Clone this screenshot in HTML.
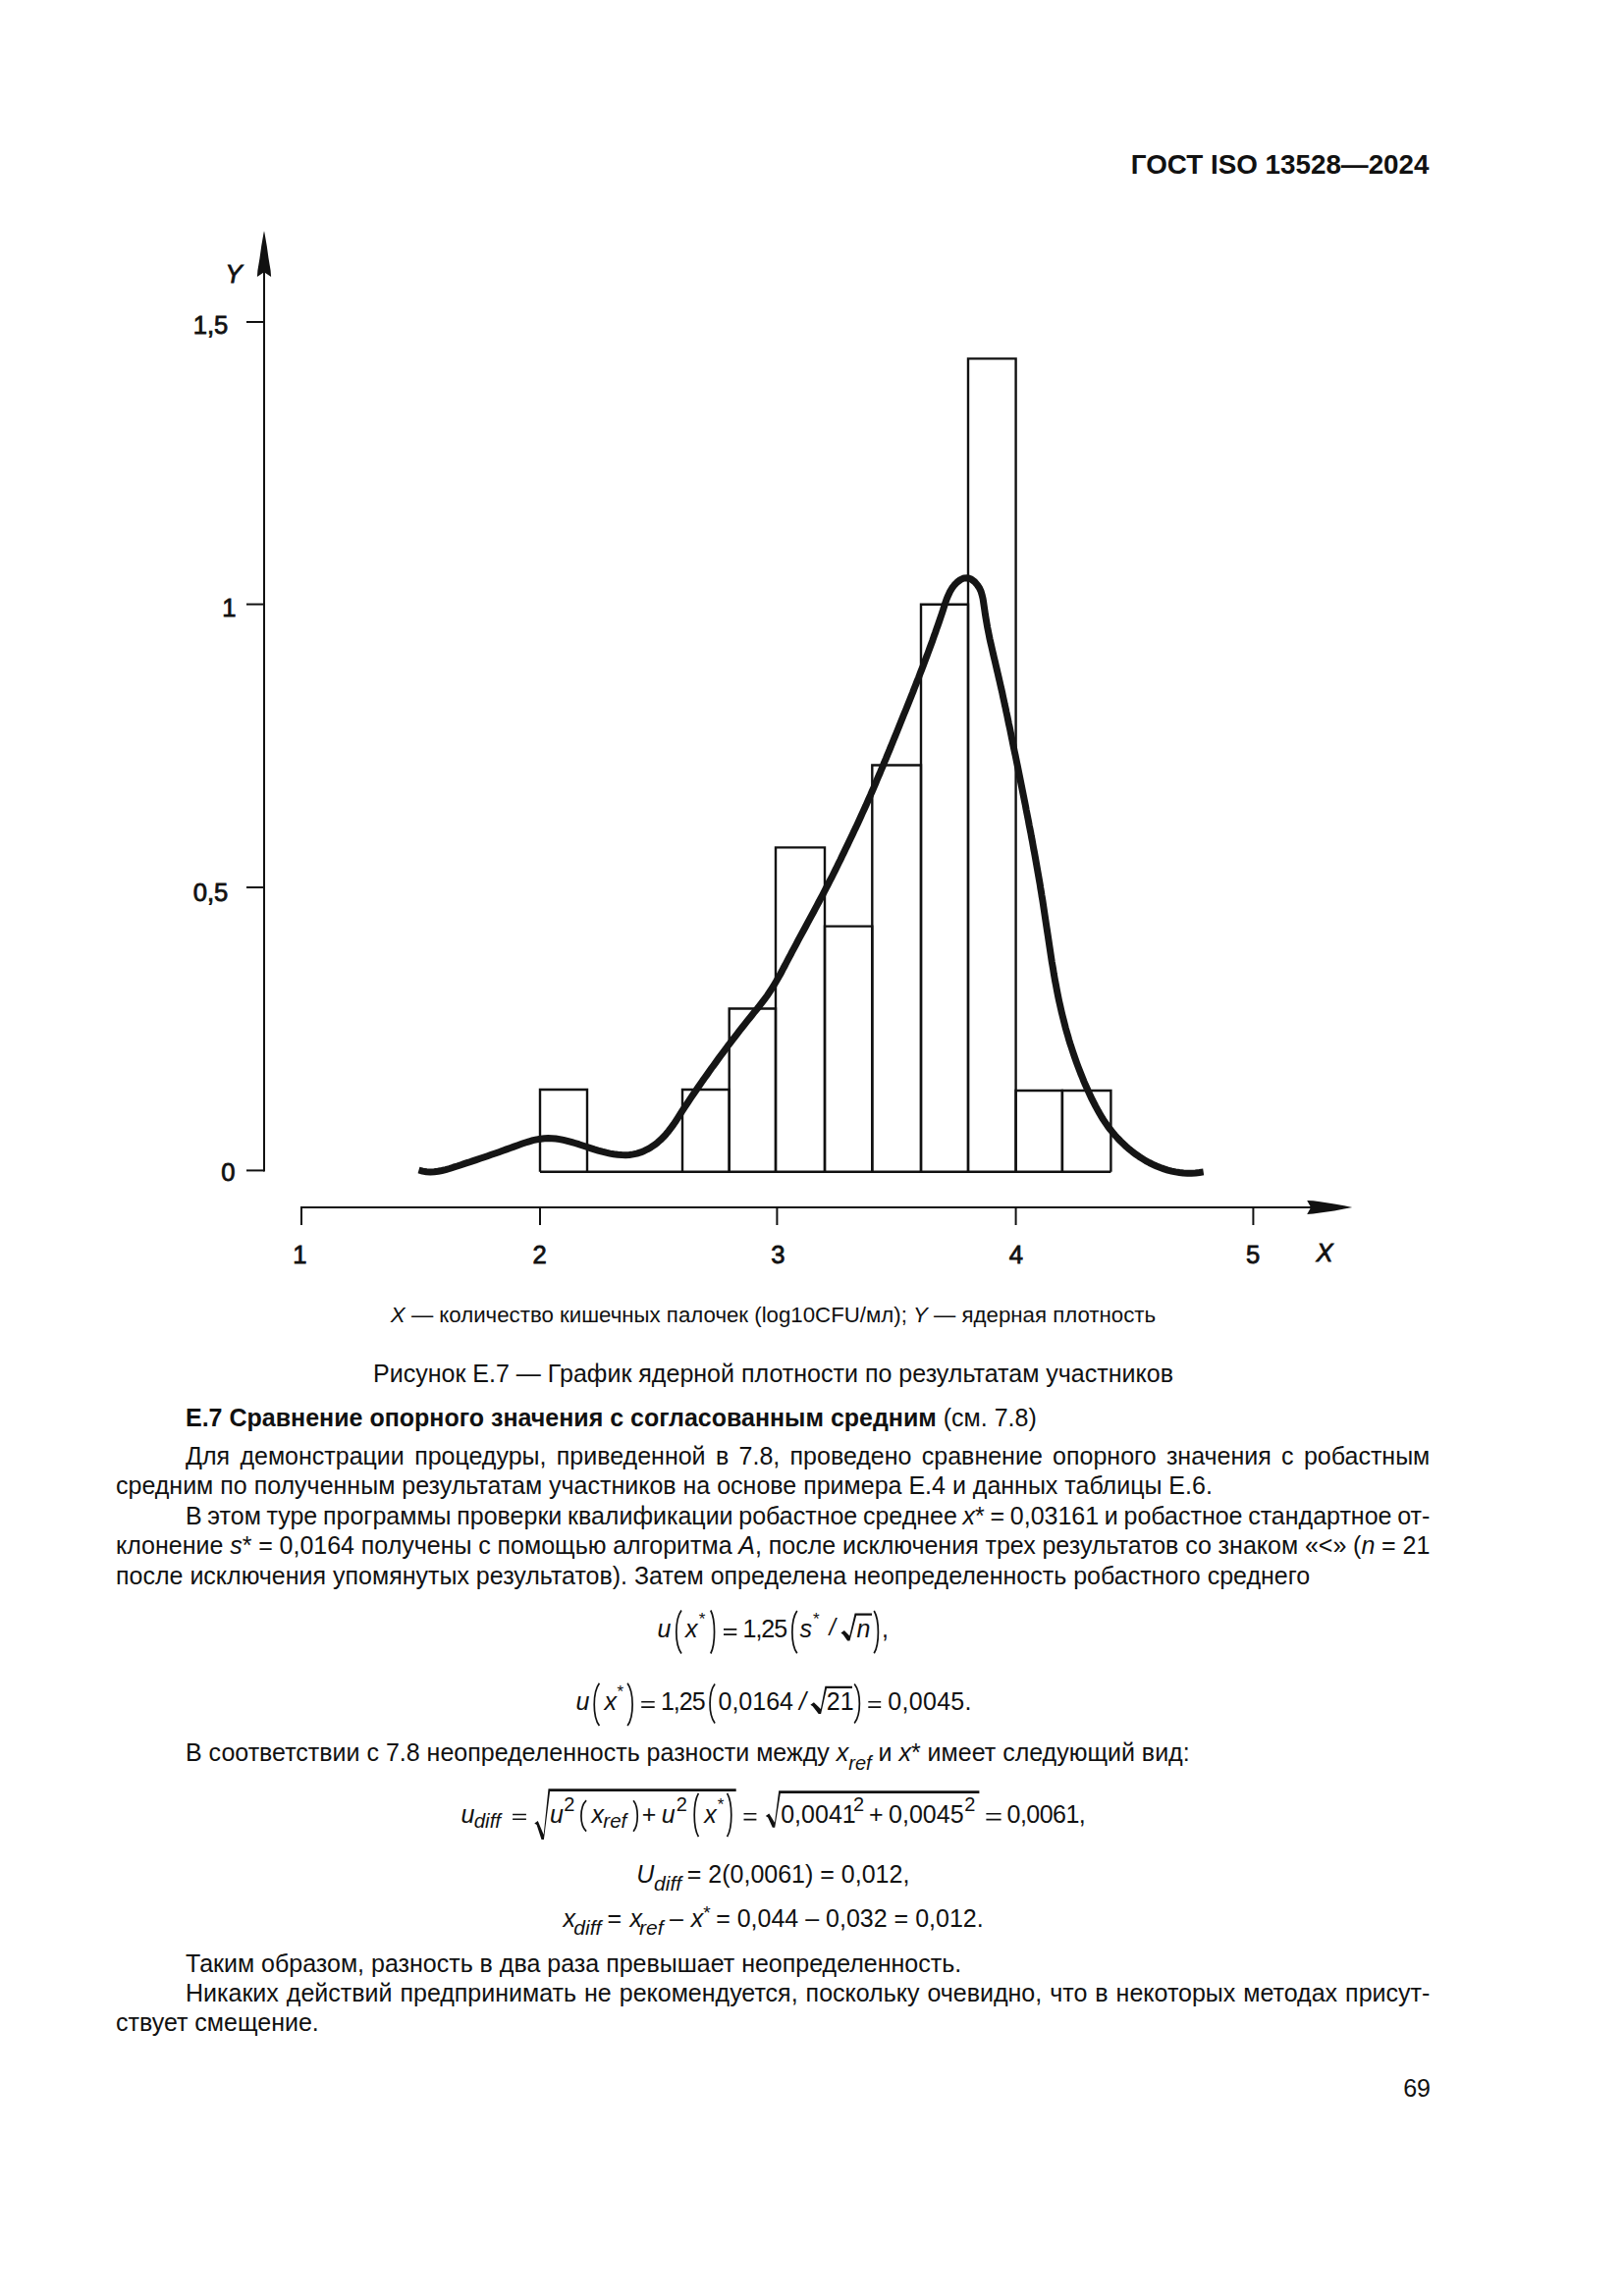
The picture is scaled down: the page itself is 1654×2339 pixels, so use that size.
<!DOCTYPE html>
<html><head><meta charset="utf-8">
<style>
html,body{margin:0;padding:0;background:#fff;}
body{width:1654px;height:2339px;position:relative;overflow:hidden;font-family:"Liberation Sans",sans-serif;color:#111;}
.t{position:absolute;white-space:pre;font-size:25px;line-height:25px;}
i{font-style:italic;}
sub{font-size:0.8em;vertical-align:0;position:relative;top:0.42em;}
svg{position:absolute;left:0;top:0;}
</style></head><body>
<svg width="1654" height="2339" viewBox="0 0 1654 2339">
<g stroke="#111" fill="none" stroke-width="2">
<line x1="269" y1="1193.5" x2="269" y2="270"/>
<line x1="251" y1="328" x2="269" y2="328"/>
<line x1="251" y1="615.6" x2="269" y2="615.6"/>
<line x1="251" y1="904" x2="269" y2="904"/>
<line x1="251" y1="1192.4" x2="269" y2="1192.4"/>
<line x1="306" y1="1230" x2="1340" y2="1230"/>
<line x1="307" y1="1230" x2="307" y2="1248"/>
<line x1="550" y1="1230" x2="550" y2="1248"/>
<line x1="791.4" y1="1230" x2="791.4" y2="1248"/>
<line x1="1034.6" y1="1230" x2="1034.6" y2="1248"/>
<line x1="1276.4" y1="1230" x2="1276.4" y2="1248"/>
</g>
<g stroke="#111" fill="none" stroke-width="2.4"><path d="M550 1193.7 H1131.4"/>
<path d="M550 1193.7 V1110 H598 V1193.7"/>
<path d="M695 1193.7 V1110 H742.7 V1193.7"/>
<path d="M742.7 1193.7 V1027.5 H790 V1193.7"/>
<path d="M790 1193.7 V863.4 H840 V1193.7"/>
<path d="M840 1193.7 V943.6 H888.3 V1193.7"/>
<path d="M888.3 1193.7 V779.5 H938 V1193.7"/>
<path d="M938 1193.7 V615.8 H986 V1193.7"/>
<path d="M986 1193.7 V365.4 H1034.6 V1193.7"/>
<path d="M1034.6 1193.7 V1111 H1081.9 V1193.7"/>
<path d="M1081.9 1193.7 V1111 H1131.4 V1193.7"/>
</g>
<path d="M269 235.2 L269.6 238 L271.8 250.8 L273.5 263.1 L275.6 275.4 L276.1 281.9 L269 277.3 L261.9 281.9 L262.4 275.4 L264.5 263.1 L266.2 250.8 L268.4 238 Z" fill="#111"/>
<path d="M1377.2 1230 L1369 1231.6 L1359 1233.4 L1344.5 1235.6 L1337.5 1236.6 L1331.2 1236.9 L1335.1 1230 L1331.2 1223 L1337.5 1223.3 L1344.5 1224.3 L1359 1226.5 L1369 1228.3 Z" fill="#111"/>
<path d="M426.5 1192.0 L430.5 1193.1 L434.4 1193.8 L438.3 1194.0 L442.2 1193.8 L446.1 1193.3 L450.0 1192.5 L453.9 1191.6 L457.8 1190.5 L461.7 1189.2 L465.6 1188.0 L469.5 1186.7 L473.3 1185.4 L477.2 1184.2 L481.1 1182.9 L484.9 1181.6 L488.8 1180.3 L492.7 1179.0 L496.5 1177.7 L500.4 1176.3 L504.3 1175.0 L508.1 1173.7 L512.0 1172.3 L515.8 1170.9 L519.7 1169.5 L523.5 1168.1 L527.4 1166.7 L531.3 1165.3 L535.1 1164.0 L539.0 1162.8 L542.9 1161.7 L546.7 1160.9 L550.6 1160.2 L554.5 1159.7 L558.3 1159.6 L562.2 1159.7 L566.1 1160.0 L570.0 1160.6 L573.9 1161.4 L577.8 1162.3 L581.7 1163.3 L585.6 1164.5 L589.5 1165.7 L593.4 1167.0 L597.3 1168.3 L601.3 1169.6 L605.2 1170.9 L609.2 1172.1 L613.2 1173.2 L617.2 1174.2 L621.2 1175.1 L625.2 1175.8 L629.2 1176.3 L633.2 1176.6 L637.1 1176.7 L641.0 1176.5 L644.9 1175.9 L648.7 1175.1 L652.5 1173.9 L656.1 1172.4 L659.7 1170.7 L663.1 1168.7 L666.5 1166.4 L669.7 1163.9 L672.8 1161.2 L675.7 1158.3 L678.4 1155.3 L681.0 1152.2 L683.5 1148.9 L685.9 1145.6 L688.2 1142.2 L690.5 1138.7 L692.7 1135.2 L694.9 1131.7 L697.2 1128.2 L699.4 1124.8 L701.7 1121.3 L704.0 1117.9 L706.3 1114.5 L708.6 1111.2 L710.9 1107.8 L713.2 1104.5 L715.5 1101.1 L717.9 1097.8 L720.2 1094.6 L722.5 1091.3 L724.8 1088.0 L727.2 1084.8 L729.5 1081.6 L731.8 1078.4 L734.2 1075.2 L736.5 1072.1 L738.9 1068.9 L741.2 1065.7 L743.6 1062.6 L746.0 1059.4 L748.4 1056.3 L750.9 1053.1 L753.3 1049.9 L755.8 1046.8 L758.3 1043.6 L760.8 1040.4 L763.4 1037.2 L766.0 1034.0 L768.6 1030.7 L771.3 1027.5 L773.9 1024.2 L776.4 1020.9 L778.9 1017.6 L781.4 1014.2 L783.7 1010.8 L785.9 1007.4 L788.0 1004.0 L790.1 1000.5 L792.1 997.0 L794.1 993.6 L796.0 990.0 L797.8 986.5 L799.7 983.0 L801.5 979.5 L803.4 975.9 L805.3 972.4 L807.1 968.8 L809.0 965.3 L810.9 961.8 L812.8 958.2 L814.7 954.7 L816.6 951.1 L818.6 947.5 L820.5 944.0 L822.4 940.4 L824.3 936.9 L826.2 933.3 L828.2 929.7 L830.1 926.1 L832.0 922.6 L833.9 919.0 L835.8 915.4 L837.7 911.8 L839.6 908.2 L841.4 904.6 L843.3 901.0 L845.1 897.4 L847.0 893.8 L848.8 890.2 L850.6 886.6 L852.4 883.0 L854.2 879.3 L856.0 875.7 L857.7 872.1 L859.5 868.4 L861.2 864.8 L863.0 861.1 L864.7 857.5 L866.5 853.8 L868.2 850.2 L869.9 846.5 L871.7 842.9 L873.4 839.2 L875.1 835.5 L876.8 831.8 L878.4 828.2 L880.1 824.5 L881.8 820.8 L883.4 817.1 L885.0 813.4 L886.7 809.7 L888.3 806.0 L889.9 802.3 L891.5 798.6 L893.0 794.9 L894.6 791.2 L896.2 787.5 L897.7 783.8 L899.3 780.1 L900.8 776.3 L902.4 772.6 L903.9 768.9 L905.5 765.2 L907.0 761.4 L908.5 757.7 L910.0 754.0 L911.6 750.2 L913.1 746.5 L914.6 742.8 L916.1 739.0 L917.6 735.3 L919.1 731.5 L920.6 727.8 L922.2 724.0 L923.7 720.3 L925.2 716.5 L926.7 712.8 L928.2 709.0 L929.7 705.3 L931.1 701.5 L932.6 697.7 L934.1 693.9 L935.6 690.2 L937.0 686.4 L938.5 682.6 L940.0 678.8 L941.4 675.0 L942.8 671.2 L944.3 667.4 L945.7 663.6 L947.1 659.8 L948.5 656.0 L949.9 652.2 L951.2 648.3 L952.6 644.5 L953.9 640.7 L955.3 636.8 L956.6 633.0 L957.9 629.1 L959.2 625.3 L960.5 621.4 L961.7 617.5 L963.0 613.7 L964.3 609.9 L965.9 606.2 L967.6 602.6 L969.6 599.2 L972.0 596.0 L974.8 593.1 L978.1 590.6 L981.8 588.9 L985.6 588.7 L989.2 590.1 L992.6 592.6 L995.3 595.7 L997.5 599.0 L999.1 602.5 L1000.2 606.2 L1001.1 610.0 L1001.7 613.9 L1002.3 617.9 L1002.9 622.0 L1003.5 626.2 L1004.2 630.3 L1004.9 634.5 L1005.6 638.6 L1006.4 642.6 L1007.2 646.7 L1008.0 650.7 L1008.9 654.6 L1009.8 658.6 L1010.7 662.5 L1011.6 666.4 L1012.5 670.3 L1013.5 674.3 L1014.4 678.2 L1015.3 682.1 L1016.2 686.0 L1017.1 689.9 L1018.0 693.8 L1018.9 697.7 L1019.8 701.6 L1020.7 705.6 L1021.5 709.5 L1022.4 713.5 L1023.2 717.4 L1024.1 721.3 L1024.9 725.3 L1025.8 729.2 L1026.6 733.2 L1027.4 737.2 L1028.3 741.1 L1029.1 745.1 L1029.9 749.1 L1030.7 753.0 L1031.5 757.0 L1032.3 761.0 L1033.1 764.9 L1034.0 768.9 L1034.8 772.9 L1035.6 776.9 L1036.4 780.8 L1037.2 784.8 L1038.0 788.8 L1038.8 792.8 L1039.6 796.8 L1040.4 800.7 L1041.2 804.7 L1042.0 808.7 L1042.8 812.7 L1043.6 816.7 L1044.4 820.6 L1045.1 824.6 L1045.9 828.6 L1046.7 832.6 L1047.5 836.6 L1048.2 840.6 L1049.0 844.5 L1049.8 848.5 L1050.5 852.5 L1051.3 856.5 L1052.0 860.5 L1052.7 864.5 L1053.5 868.5 L1054.2 872.4 L1054.9 876.4 L1055.6 880.4 L1056.3 884.4 L1057.0 888.4 L1057.7 892.4 L1058.4 896.4 L1059.1 900.3 L1059.7 904.3 L1060.4 908.3 L1061.0 912.3 L1061.7 916.3 L1062.3 920.3 L1062.9 924.3 L1063.5 928.2 L1064.1 932.2 L1064.7 936.2 L1065.3 940.2 L1065.9 944.2 L1066.5 948.1 L1067.1 952.1 L1067.7 956.1 L1068.3 960.1 L1068.9 964.1 L1069.5 968.0 L1070.1 972.0 L1070.7 976.0 L1071.3 980.0 L1072.0 983.9 L1072.7 987.9 L1073.3 991.9 L1074.0 995.8 L1074.7 999.8 L1075.5 1003.8 L1076.2 1007.7 L1077.0 1011.7 L1077.8 1015.7 L1078.6 1019.6 L1079.5 1023.6 L1080.4 1027.6 L1081.3 1031.5 L1082.3 1035.5 L1083.3 1039.4 L1084.3 1043.4 L1085.3 1047.4 L1086.4 1051.3 L1087.6 1055.3 L1088.7 1059.2 L1089.9 1063.1 L1091.2 1067.0 L1092.5 1071.0 L1093.8 1074.9 L1095.1 1078.7 L1096.5 1082.6 L1097.9 1086.4 L1099.4 1090.3 L1100.9 1094.1 L1102.4 1097.8 L1103.9 1101.6 L1105.5 1105.3 L1107.2 1109.0 L1108.8 1112.6 L1110.5 1116.3 L1112.2 1119.9 L1114.0 1123.4 L1115.8 1126.9 L1117.7 1130.4 L1119.6 1133.8 L1121.6 1137.2 L1123.7 1140.6 L1125.9 1143.9 L1128.1 1147.1 L1130.5 1150.3 L1133.0 1153.4 L1135.6 1156.5 L1138.3 1159.5 L1141.2 1162.5 L1144.1 1165.3 L1147.1 1168.1 L1150.2 1170.8 L1153.4 1173.4 L1156.7 1175.8 L1160.1 1178.2 L1163.5 1180.4 L1167.0 1182.6 L1170.6 1184.5 L1174.3 1186.3 L1178.0 1188.0 L1181.8 1189.5 L1185.6 1190.9 L1189.4 1192.1 L1193.4 1193.1 L1197.3 1193.9 L1201.3 1194.5 L1205.3 1195.0 L1209.4 1195.2 L1213.4 1195.2 L1217.5 1195.0 L1221.6 1194.5 L1225.7 1193.9" stroke="#151515" stroke-width="7" fill="none" stroke-linejoin="round"/>
<g font-family="Liberation Sans" font-weight="normal" font-size="25.6" fill="#111" stroke="#111" stroke-width="0.8">
<text x="232.3" y="340.2" text-anchor="end">1,5</text>
<text x="240.5" y="628" text-anchor="end">1</text>
<text x="232.3" y="917.8" text-anchor="end">0,5</text>
<text x="239.5" y="1202.8" text-anchor="end">0</text>
<text x="305.4" y="1287" text-anchor="middle">1</text>
<text x="549.5" y="1287" text-anchor="middle">2</text>
<text x="792.4" y="1287" text-anchor="middle">3</text>
<text x="1034.9" y="1287" text-anchor="middle">4</text>
<text x="1276.2" y="1287" text-anchor="middle">5</text>
<text x="1340.5" y="1285" font-style="italic">X</text>
<text x="229.5" y="287.8" font-style="italic">Y</text>
</g>
</svg>
<div class="t" style="left:0;width:1455.5px;text-align:right;top:154.07px;font-size:27.8px;line-height:27.8px;font-weight:bold">ГОСТ ISO 13528—2024</div>
<div class="t" style="left:0;width:1575px;text-align:center;top:1328.97px;font-size:22.25px;line-height:22.25px"><i>X</i> — количество кишечных палочек (log10CFU/мл); <i>Y</i> — ядерная плотность</div>
<div class="t" style="left:0;width:1575px;text-align:center;top:1386.6px;font-size:25.04px;line-height:25.04px">Рисунок Е.7 — График ядерной плотности по результатам участников</div>
<div class="t" style="left:189px;top:1431.84px;"><b>Е.7 Сравнение опорного значения с согласованным средним</b> (см. 7.8)</div>
<div class="t" style="left:189px;top:1470.64px;word-spacing:3.394px;">Для демонстрации процедуры, приведенной в 7.8, проведено сравнение опорного значения с робастным</div>
<div class="t" style="left:118px;top:1500.54px;">средним по полученным результатам участников на основе примера Е.4 и данных таблицы Е.6.</div>
<div class="t" style="left:189px;top:1531.64px;word-spacing:-1.262px;">В этом туре программы проверки квалификации робастное среднее <i>x</i>* = 0,03161 и робастное стандартное от-</div>
<div class="t" style="left:118px;top:1561.64px;word-spacing:-0.166px;">клонение <i>s</i>* = 0,0164 получены с помощью алгоритма <i>A</i>, после исключения трех результатов со знаком «&lt;» (<i>n</i> = 21</div>
<div class="t" style="left:118px;top:1592.54px;">после исключения упомянутых результатов). Затем определена неопределенность робастного среднего</div>
<div class="t" style="left:189px;top:1773.44px;">В соответствии с 7.8 неопределенность разности между <i>x<sub>ref</sub></i> и <i>x</i>* имеет следующий вид:</div>
<div class="t" style="left:189px;top:1988.04px;">Таким образом, разность в два раза превышает неопределенность.</div>
<div class="t" style="left:189px;top:2018.04px;word-spacing:1.057px;">Никаких действий предпринимать не рекомендуется, поскольку очевидно, что в некоторых методах присут-</div>
<div class="t" style="left:118px;top:2048.04px;">ствует смещение.</div>
<div class="t" style="left:0;width:1457px;text-align:right;top:2114.84px;">69</div>
<svg width="1654" height="2339" style="position:absolute;left:0;top:0"><path d="M694.0 1640.5 C687.1 1650.2 687.1 1674.8 694.0 1684.5" stroke="#111" stroke-width="1.7" fill="none"/><path d="M723.8 1640.5 C728.8 1650.2 728.8 1674.8 723.8 1684.5" stroke="#111" stroke-width="1.7" fill="none"/><path d="M737 1659.9 H750.3 M737 1665.1 H750.3" stroke="#111" stroke-width="1.6" fill="none"/><path d="M811.8 1641.0 C805.2 1650.5 805.2 1674.8 811.8 1684.3" stroke="#111" stroke-width="1.7" fill="none"/><path d="M856.4 1663.6 L859.9 1661.1 L865.3 1666.5 L870.6 1643.6 L888.0 1643.6 L888.0 1645.8 L872.2 1645.8 L865.5 1671.5 L863.1 1671.5 L858.7 1665.2 Z" fill="#111"/><path d="M890.2 1641.0 C895.8 1650.5 895.8 1674.8 890.2 1684.3" stroke="#111" stroke-width="1.7" fill="none"/><path d="M610.4 1714.7 C603.5 1724.2 603.5 1748.6 610.4 1758.1" stroke="#111" stroke-width="1.7" fill="none"/><path d="M639.1 1714.7 C645.8 1724.2 645.8 1748.6 639.1 1758.1" stroke="#111" stroke-width="1.7" fill="none"/><path d="M653.2 1733.7 H666.7 M653.2 1739.1 H666.7" stroke="#111" stroke-width="1.6" fill="none"/><path d="M728.1 1715.4 C721.4 1724.2 721.4 1746.6 728.1 1755.4" stroke="#111" stroke-width="1.7" fill="none"/><path d="M825.4 1736.7 L828.9 1734.2 L835.9 1740.9 L840.4 1717.8 L868.0 1717.8 L868.0 1720.0 L842.0 1720.0 L836.1 1745.9 L833.7 1745.9 L827.7 1738.3 Z" fill="#111"/><path d="M870.2 1715.4 C877.1 1724.2 877.1 1746.6 870.2 1755.4" stroke="#111" stroke-width="1.7" fill="none"/><path d="M884.3 1733.7 H897.2 M884.3 1739.1 H897.2" stroke="#111" stroke-width="1.6" fill="none"/><path d="M522.1 1848.5 H535.9 M522.1 1853.3 H535.9" stroke="#111" stroke-width="1.6" fill="none"/><path d="M544.3 1857.4 L547.8 1854.9 L553.7 1869.1 L558.5 1822.3 L749.7 1822.3 L749.7 1824.9 L560.1 1824.9 L553.9 1874.1 L551.5 1874.1 L546.6 1859.0 Z" fill="#111"/><path d="M597.1 1834.2 C590.2 1841.1 590.2 1858.8 597.1 1865.7" stroke="#111" stroke-width="1.7" fill="none"/><path d="M645.1 1834.2 C650.6 1841.1 650.6 1858.8 645.1 1865.7" stroke="#111" stroke-width="1.7" fill="none"/><path d="M711.4 1826.8 C705.8 1836.6 705.8 1861.4 711.4 1871.2" stroke="#111" stroke-width="1.7" fill="none"/><path d="M740.6 1826.8 C746.2 1836.6 746.2 1861.4 740.6 1871.2" stroke="#111" stroke-width="1.7" fill="none"/><path d="M757.5 1847.8 H770.4 M757.5 1853.6 H770.4" stroke="#111" stroke-width="1.6" fill="none"/><path d="M779.8 1850.0 L783.3 1847.5 L789.0 1856.8 L793.2 1824.3 L997.4 1824.3 L997.4 1826.9 L794.8 1826.9 L789.2 1861.8 L786.8 1861.8 L782.1 1851.6 Z" fill="#111"/><path d="M1004.4 1847.8 H1019.6 M1004.4 1853.6 H1019.6" stroke="#111" stroke-width="1.6" fill="none"/></svg>
<div class="t" style="left:669.45px;top:1647.44px;font-size:25px;line-height:25px;font-style:italic;">u</div>
<div class="t" style="left:698.00px;top:1647.44px;font-size:25px;line-height:25px;font-style:italic;">x</div>
<div class="t" style="left:711.73px;top:1641.34px;font-size:17px;line-height:17px;">*</div>
<div class="t" style="left:756.50px;top:1647.44px;font-size:25px;line-height:25px;letter-spacing:-1px;">1,25</div>
<div class="t" style="left:814.44px;top:1647.44px;font-size:25px;line-height:25px;font-style:italic;">s</div>
<div class="t" style="left:828.03px;top:1641.14px;font-size:17px;line-height:17px;">*</div>
<div class="t" style="left:844.42px;top:1647.44px;font-size:25px;line-height:25px;font-style:italic;font-size:23px;line-height:23px;">/</div>
<div class="t" style="left:872.58px;top:1647.44px;font-size:25px;line-height:25px;font-style:italic;">n</div>
<div class="t" style="left:897.95px;top:1647.44px;font-size:25px;line-height:25px;">,</div>
<div class="t" style="left:586.45px;top:1721.34px;font-size:25px;line-height:25px;font-style:italic;">u</div>
<div class="t" style="left:615.50px;top:1721.34px;font-size:25px;line-height:25px;font-style:italic;">x</div>
<div class="t" style="left:628.53px;top:1714.84px;font-size:17px;line-height:17px;">*</div>
<div class="t" style="left:672.90px;top:1721.34px;font-size:25px;line-height:25px;letter-spacing:-1px;">1,25</div>
<div class="t" style="left:731.52px;top:1721.34px;font-size:25px;line-height:25px;">0,0164</div>
<div class="t" style="left:813.92px;top:1721.34px;font-size:25px;line-height:25px;font-style:italic;">/</div>
<div class="t" style="left:841.74px;top:1721.34px;font-size:25px;line-height:25px;">21</div>
<div class="t" style="left:904.32px;top:1721.34px;font-size:25px;line-height:25px;letter-spacing:0.3px;">0,0045.</div>
<div class="t" style="left:469.55px;top:1835.84px;font-size:25px;line-height:25px;font-style:italic;">u</div>
<div class="t" style="left:482.71px;top:1845.25px;font-size:20.5px;line-height:20.5px;font-style:italic;">diff</div>
<div class="t" style="left:559.95px;top:1835.84px;font-size:25px;line-height:25px;font-style:italic;">u</div>
<div class="t" style="left:574.29px;top:1827.67px;font-size:20px;line-height:20px;">2</div>
<div class="t" style="left:602.50px;top:1835.84px;font-size:25px;line-height:25px;font-style:italic;">x</div>
<div class="t" style="left:614.36px;top:1845.25px;font-size:20.5px;line-height:20.5px;font-style:italic;">ref</div>
<div class="t" style="left:653.78px;top:1835.84px;font-size:25px;line-height:25px;">+</div>
<div class="t" style="left:673.75px;top:1835.84px;font-size:25px;line-height:25px;font-style:italic;">u</div>
<div class="t" style="left:688.79px;top:1827.67px;font-size:20px;line-height:20px;">2</div>
<div class="t" style="left:717.20px;top:1835.84px;font-size:25px;line-height:25px;font-style:italic;">x</div>
<div class="t" style="left:730.73px;top:1829.94px;font-size:17px;line-height:17px;">*</div>
<div class="t" style="left:795.22px;top:1835.84px;font-size:25px;line-height:25px;">0,0041</div>
<div class="t" style="left:868.89px;top:1828.07px;font-size:20px;line-height:20px;">2</div>
<div class="t" style="left:884.98px;top:1835.84px;font-size:25px;line-height:25px;">+</div>
<div class="t" style="left:905.12px;top:1835.84px;font-size:25px;line-height:25px;">0,0045</div>
<div class="t" style="left:982.29px;top:1828.07px;font-size:20px;line-height:20px;">2</div>
<div class="t" style="left:1025.62px;top:1835.84px;font-size:25px;line-height:25px;letter-spacing:-0.55px;">0,0061,</div>
<div class="t" style="left:648.33px;top:1897.44px;font-size:25px;line-height:25px;font-style:italic;">U</div>
<div class="t" style="left:666.09px;top:1908.22px;font-size:21px;line-height:21px;font-style:italic;">diff</div>
<div class="t" style="left:699.78px;top:1897.44px;font-size:25px;line-height:25px;">= 2(0,0061) = 0,012,</div>
<div class="t" style="left:573.50px;top:1941.54px;font-size:25px;line-height:25px;font-style:italic;">x</div>
<div class="t" style="left:584.29px;top:1953.02px;font-size:21px;line-height:21px;font-style:italic;">diff</div>
<div class="t" style="left:618.38px;top:1941.54px;font-size:25px;line-height:25px;">= </div>
<div class="t" style="left:641.40px;top:1941.54px;font-size:25px;line-height:25px;font-style:italic;">x</div>
<div class="t" style="left:651.05px;top:1953.02px;font-size:21px;line-height:21px;font-style:italic;">ref</div>
<div class="t" style="left:682.00px;top:1941.54px;font-size:25px;line-height:25px;">–</div>
<div class="t" style="left:703.70px;top:1941.54px;font-size:25px;line-height:25px;font-style:italic;">x</div>
<div class="t" style="left:716.19px;top:1939.32px;font-size:19px;line-height:19px;">*</div>
<div class="t" style="left:729.18px;top:1941.54px;font-size:25px;line-height:25px;">= 0,044 – 0,032 = 0,012.</div>
</body></html>
